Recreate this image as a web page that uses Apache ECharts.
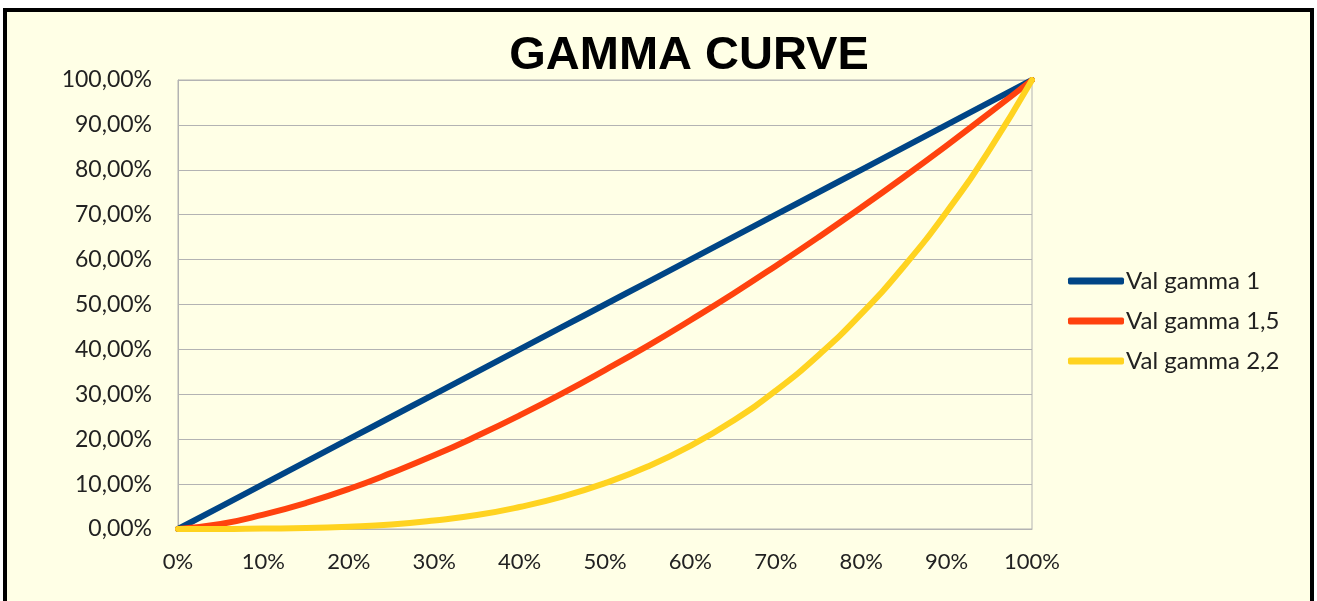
<!DOCTYPE html>
<html>
<head>
<meta charset="utf-8">
<script src="https://cdn.jsdelivr.net/npm/echarts@6/dist/echarts.min.js"></script>
<style>
  body { margin: 0; background: #fff; }
  #chart1 {
    position: absolute; left: 3px; top: 8px; width: 1311px; height: 600px;
    box-sizing: border-box; border: 4px solid #000; background: #FFFFE6;
  }
</style>
</head>
<body>
<div id="chart1"></div>
<script>
// 数据（从图上读出，百分比）
const xPct = [0, 5, 10, 15, 20, 25, 30, 35, 40, 45, 50, 55, 60, 65, 70, 75, 80, 85, 90, 95, 100];
const gamma1 = [0, 5, 10, 15, 20, 25, 30, 35, 40, 45, 50, 55, 60, 65, 70, 75, 80, 85, 90, 95, 100];
const gamma15 = [0, 1.1, 3.2, 5.8, 8.9, 12.5, 16.4, 20.7, 25.3, 30.2, 35.4, 40.8, 46.5, 52.4, 58.6, 65.0, 71.6, 78.4, 85.4, 92.6, 100];
const gamma22 = [0, 0, 0.1, 0.2, 0.5, 1.0, 1.9, 3.1, 4.9, 7.2, 10.2, 13.9, 18.5, 24.1, 30.8, 38.7, 47.9, 58.5, 70.6, 84.4, 100];
const seriesNames = ['Val gamma 1', 'Val gamma 1,5', 'Val gamma 2,2'];
const seriesColors = ['#004586', '#FF420E', '#FFD320'];

function initChart() {
    const chart = echarts.init(document.getElementById('chart1'), null, { renderer: 'canvas' });
    const lists = [gamma1, gamma15, gamma22];
    const font = 'Lato';

    const option = {
        animation: false,
        title: {
            text: 'GAMMA CURVE',
            left: 677, top: 16, textAlign: 'center',
            textStyle: { fontFamily: 'Liberation Sans', fontWeight: 'bold', fontSize: 47, color: '#000' }
        },
        grid: {
            left: 171, top: 68, width: 854, height: 449,
            show: true, borderColor: '#B3B3B3', borderWidth: 1, backgroundColor: 'transparent'
        },
        legend: {
            orient: 'vertical',
            left: 1056, top: 252,
            icon: 'roundRect',
            itemWidth: 56, itemHeight: 7, itemGap: 16,
            textStyle: { fontFamily: font, fontSize: 24, color: '#222', padding: [0, 0, 0, -3] },
            data: seriesNames
        },
        xAxis: {
            type: 'value', min: 0, max: 100, interval: 10,
            axisLine: { lineStyle: { color: '#B3B3B3' } },
            axisTick: { show: false },
            splitLine: { show: false },
            axisLabel: { margin: 22, fontFamily: font, fontSize: 22, color: '#222', formatter: '{value}%' }
        },
        yAxis: {
            type: 'value', min: 0, max: 100, interval: 10,
            axisLine: { show: true, lineStyle: { color: '#B3B3B3' } },
            axisTick: { show: false },
            splitLine: { lineStyle: { color: '#B3B3B3' } },
            axisLabel: {
                margin: 26, fontFamily: font, fontSize: 23, color: '#222',
                formatter: v => v.toFixed(2).replace('.', ',') + '%'
            }
        },
        series: seriesNames.map((name, i) => ({
            name: name,
            type: 'line',
            symbol: 'none',
            smooth: true,
            color: seriesColors[i],
            lineStyle: { width: 6, cap: 'round' },
            data: xPct.map((x, j) => [x, lists[i][j]])
        }))
    };
    chart.setOption(option);
}
window.addEventListener('load', initChart);
</script>
</body>
</html>
